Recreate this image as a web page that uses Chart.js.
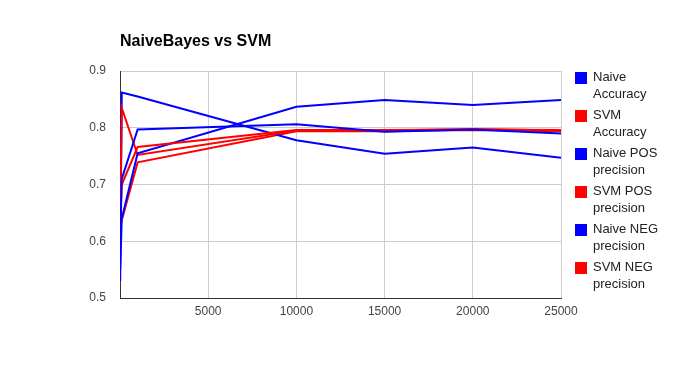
<!DOCTYPE html>
<html>
<head>
<meta charset="utf-8">
<script src="https://cdn.jsdelivr.net/npm/chart.js@4.4.1/dist/chart.umd.min.js"></script>
<style>
  html, body { margin: 0; padding: 0; background: #fff; }
  #wrap { position: relative; width: 682px; height: 371px; }
</style>
</head>
<body>
<div id="wrap"><canvas id="c" width="682" height="371"></canvas></div>
<script>
const chartTitle = "NaiveBayes vs SVM";
const xValues = [10, 100, 1000, 10000, 15000, 20000, 25000];
const naiveAccuracy = [0.600, 0.710, 0.797, 0.806, 0.793, 0.797, 0.790];
const svmAccuracy   = [0.630, 0.700, 0.766, 0.796, 0.796, 0.797, 0.796];
const naivePos      = [0.550, 0.640, 0.755, 0.837, 0.849, 0.840, 0.849];
const svmPos        = [0.620, 0.835, 0.752, 0.795, 0.795, 0.798, 0.795];
const naiveNeg      = [0.530, 0.862, 0.855, 0.778, 0.754, 0.765, 0.747];
const svmNeg        = [0.640, 0.637, 0.739, 0.794, 0.794, 0.796, 0.794];
const seriesNames = [["Naive", "Accuracy"], ["SVM", "Accuracy"], ["Naive POS", "precision"],
                     ["SVM POS", "precision"], ["Naive NEG", "precision"], ["SVM NEG", "precision"]];
const yTicks = [0.5, 0.6, 0.7, 0.8, 0.9];
const xTicks = [5000, 10000, 15000, 20000, 25000];

const BLUE = "#0000ff", RED = "#ff0000";
const seriesData = [naiveAccuracy, svmAccuracy, naivePos, svmPos, naiveNeg, svmNeg];
const seriesColors = [BLUE, RED, BLUE, RED, BLUE, RED];

const datasets = seriesData.map((vals, i) => ({
  label: seriesNames[i].join(" "),
  data: vals.map((v, j) => ({ x: xValues[j], y: v })),
  borderColor: seriesColors[i],
  backgroundColor: seriesColors[i],
  borderWidth: 2,
  pointRadius: 0,
  pointHoverRadius: 0,
  tension: 0,
  fill: false
}));

const FONT = "Arial, 'Liberation Sans', sans-serif";

const extras = {
  id: "extras",
  afterDraw(chart) {
    const ctx = chart.ctx;
    ctx.save();
    ctx.fillStyle = "#000";
    ctx.font = "bold 16px " + FONT;
    ctx.textBaseline = "middle";
    ctx.textAlign = "left";
    ctx.fillText(chartTitle, 120, 42);
    ctx.font = "13px " + FONT;
    const area = chart.chartArea;
    const lx = area.right + 14;
    seriesNames.forEach((lines, i) => {
      const top = 72 + i * 38;
      ctx.fillStyle = seriesColors[i];
      ctx.fillRect(lx, top, 12, 12);
      ctx.fillStyle = "#222";
      lines.forEach((t, k) => {
        ctx.fillText(t, lx + 18, top + 5.5 + k * 17);
      });
    });
    ctx.restore();
  }
};

new Chart(document.getElementById("c"), {
  type: "line",
  data: { datasets },
  options: {
    responsive: false,
    animation: false,
    events: [],
    layout: { padding: { left: 0, right: 121, top: 71, bottom: 0 } },
    plugins: { legend: { display: false }, tooltip: { enabled: false }, title: { display: false } },
    scales: {
      x: {
        type: "linear",
        min: 0, max: 25000,
        afterBuildTicks(scale) { scale.ticks = [0].concat(xTicks).map(v => ({ value: v })); },
        afterFit(scale) { scale.height = 73; },
        ticks: {
          color: "#444", font: { family: FONT, size: 12 }, padding: 6,
          maxRotation: 0, autoSkip: false,
          callback: (v) => (v === 0 ? "" : String(v))
        },
        grid: { color: "#cccccc", lineWidth: 1, drawTicks: false },
        border: { color: "#333333", width: 1 }
      },
      y: {
        type: "linear",
        min: 0.5, max: 0.9,
        afterBuildTicks(scale) { scale.ticks = yTicks.map(v => ({ value: v })); },
        afterFit(scale) { scale.width = 120; },
        ticks: {
          color: "#444", font: { family: FONT, size: 12 }, padding: 14,
          callback: (v) => String(Math.round(v * 10) / 10)
        },
        grid: { color: "#cccccc", lineWidth: 1, drawTicks: false },
        border: { color: "#333333", width: 1 }
      }
    }
  },
  plugins: [extras]
});
</script>
</body>
</html>
